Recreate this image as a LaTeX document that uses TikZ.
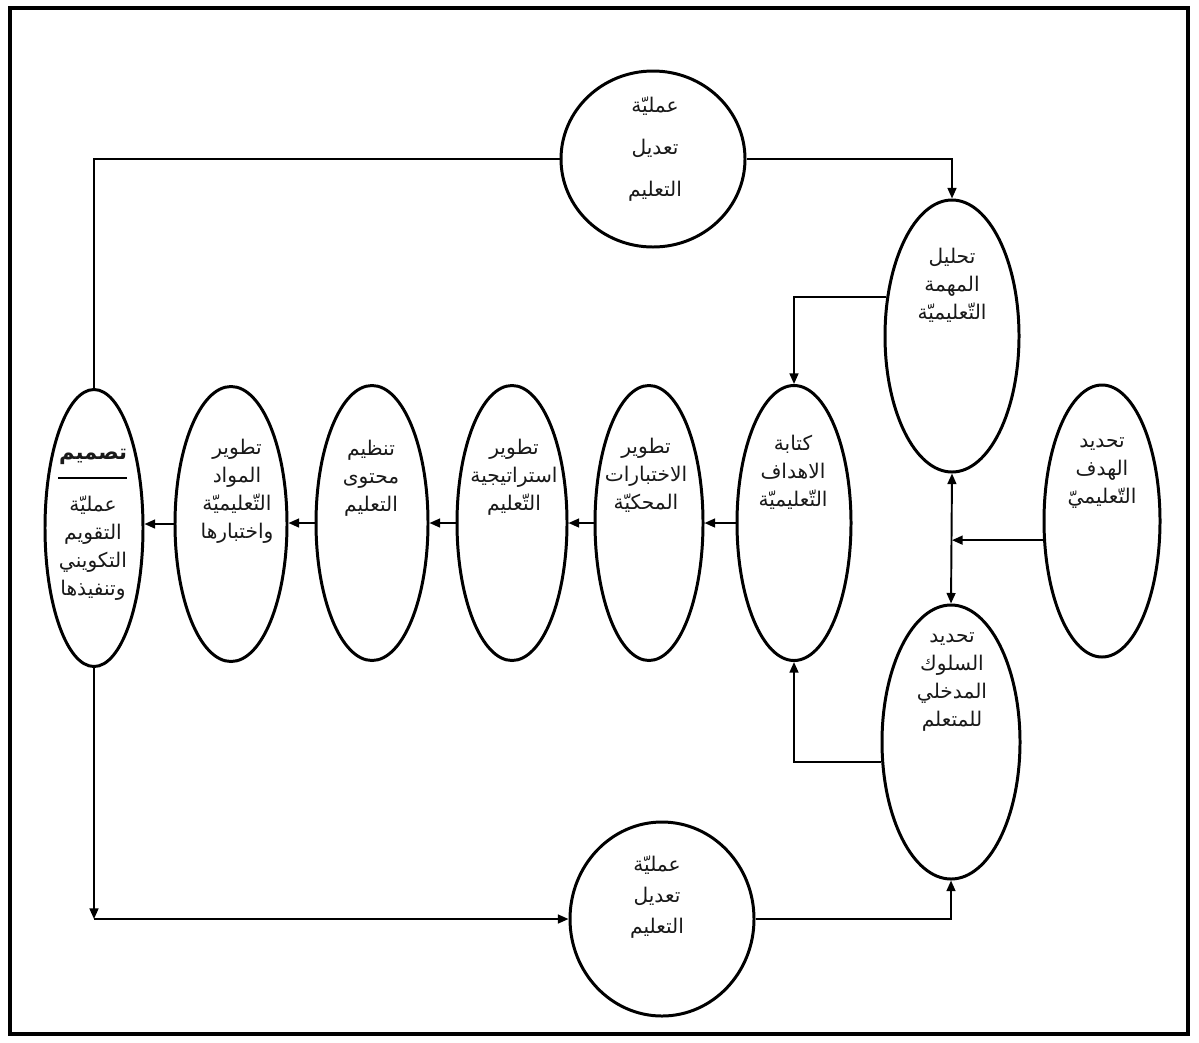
\documentclass[tikz,border=0pt]{standalone}
\usepackage{fontspec}
\usetikzlibrary{shapes.geometric,arrows.meta,calc}
\newfontfamily\arabicfont[Script=Arabic]{DejaVu Sans}
\TeXXeTstate=1
\newcommand\rl[1]{\beginR #1\endR}
\begin{document}
\begin{tikzpicture}[x=0.02cm,y=-0.02cm,
  ov/.style 2 args={ellipse, draw, line width=1.7pt, minimum width=#1*0.02cm, minimum height=#2*0.02cm, inner sep=0pt},
  conn/.style={line width=1.1pt},
  arr/.style={conn, -{Triangle[length=6pt,width=5pt]}},
  darr/.style={conn, {Triangle[length=6pt,width=5pt]}-{Triangle[length=6pt,width=5pt]}},
  lbl/.style={align=center, inner sep=0pt, text=black!90, font=\arabicfont\fontsize{11.5}{16}\selectfont},
]
\useasboundingbox (0,0) rectangle (1199,1042);
\fill[white] (0,0) rectangle (1199,1042);
\draw[line width=2pt] (10,8) rectangle (1188,1034);

% ellipses
\node[ov={184}{176}] (topm) at (653,159) {};
\node[ov={134}{272}] (anal) at (952,336) {};
\node[ov={116}{272}] (goal) at (1102,521) {};
\node[ov={138}{274}] (seek) at (951,742) {};
\node[ov={114}{275}] (kit) at (794,523) {};
\node[ov={108}{275}] (ikh) at (649,523) {};
\node[ov={110}{275}] (istr) at (512,523) {};
\node[ov={112}{275}] (tanz) at (372,523) {};
\node[ov={112}{275}] (mawad) at (231,524) {};
\node[ov={98}{277}] (tdes) at (94,528) {};
\node[ov={184}{194}] (botm) at (662,919) {};

% texts
\node[lbl, font=\arabicfont\fontsize{11.5}{24}\selectfont] (ttopm) at (655,149) {\rl{عمليّة}\\\rl{تعديل}\\\rl{التعليم}};
\node[lbl] (tanal) at (952,285) {\rl{تحليل}\\\rl{المهمة}\\\rl{التّعليميّة}};
\node[lbl] (tgoal) at (1102,473) {\rl{تحديد}\\\rl{الهدف}\\\rl{التّعليميّ}};
\node[lbl] (tseek) at (952,682) {\rl{تحديد}\\\rl{السلوك}\\\rl{المدخلي}\\\rl{للمتعلم}};
\node[lbl] (tkit) at (793,472) {\rl{كتابة}\\\rl{الاهداف}\\\rl{التّعليميّة}};
\node[lbl] (tikh) at (646,475) {\rl{تطوير}\\\rl{الاختبارات}\\\rl{المحكيّة}};
\node[lbl] (tistr) at (514,477) {\rl{تطوير}\\\rl{استراتيجية}\\\rl{التّعليم}};
\node[lbl] (ttanz) at (371,478) {\rl{تنظيم}\\\rl{محتوى}\\\rl{التعليم}};
\node[lbl] (tmawad) at (237,491) {\rl{تطوير}\\\rl{المواد}\\\rl{التّعليميّة}\\\rl{واختبارها}};
\node[lbl, font=\arabicfont\bfseries\fontsize{12}{16}\selectfont] (ttdesh) at (93,457) {\rl{تصميم}};
\draw[line width=1pt] (58,478) -- (127,478);
\node[lbl] (ttdes) at (93,548) {\rl{عمليّة}\\\rl{التقويم}\\\rl{التكويني}\\\rl{وتنفيذها}};
\node[lbl, font=\arabicfont\fontsize{11.5}{17.5}\selectfont] (tbotm) at (657,897) {\rl{عمليّة}\\\rl{تعديل}\\\rl{التعليم}};

% connectors
\draw[conn] (tdes.north) |- (topm.west);
\draw[arr] (topm.east) -| (anal.north);
\draw[arr] (anal.149) -| (kit.north);
\draw[arr] (seek.196) -| (kit.south);
\draw[darr] (anal.south) -- (seek.north);
\draw[arr] (goal.198) -- (goal.198 -| anal.south);
\draw[arr] (kit.west) -- (kit.west -| ikh.east);
\draw[arr] (ikh.west) -- (ikh.west -| istr.east);
\draw[arr] (istr.west) -- (istr.west -| tanz.east);
\draw[arr] (tanz.west) -- (tanz.west -| mawad.east);
\draw[arr] (mawad.west) -- (mawad.west -| tdes.east);
\coordinate (corner) at (tdes.south |- botm.west);
\draw[arr] (tdes.south) -- (corner);
\draw[arr] (corner) -- (botm.west);
\draw[arr] (botm.east) -| (seek.south);
\end{tikzpicture}
\end{document}
